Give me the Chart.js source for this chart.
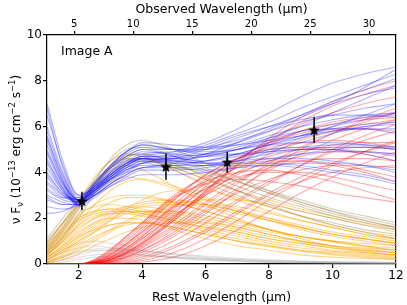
<!DOCTYPE html>
<html>
<head>
<meta charset="utf-8">
<script src="https://cdn.jsdelivr.net/npm/chart.js@4.4.0/dist/chart.umd.min.js"></script>
<style>
  html, body { margin: 0; padding: 0; background: #fff; }
</style>
</head>
<body>
<canvas id="sed" width="407" height="305"></canvas>
<script>
// rest-frame wavelength grid (micron) shared by every model curve
const restWavelength = [1, 1.5, 2, 2.5, 3, 3.5, 4, 5, 6, 7, 8, 9, 10, 11, 12];

// total model curves (blue)
const blueModels = [
  [6.8, 4.2, 2.9, 3.4, 4.0, 4.5, 4.8, 4.9, 5.0, 5.3, 5.8, 6.4, 7.0, 7.7, 8.5],
  [5.5, 3.8, 2.7, 3.2, 3.8, 4.3, 4.6, 4.6, 4.7, 5.0, 5.5, 6.0, 6.6, 7.2, 7.8],
  [4.5, 3.3, 2.6, 3.1, 3.7, 4.2, 4.5, 4.4, 4.5, 4.8, 5.2, 5.5, 5.8, 6.0, 6.1],
  [3.8, 3.0, 2.7, 3.3, 3.9, 4.4, 4.7, 4.7, 4.8, 5.0, 5.2, 5.3, 5.3, 5.2, 5.0],
  [3.0, 2.7, 2.6, 3.2, 3.9, 4.4, 4.7, 4.6, 4.5, 4.7, 4.9, 5.0, 5.0, 4.8, 4.5],
  [5.0, 3.5, 2.8, 3.4, 4.1, 4.7, 5.0, 5.0, 5.1, 5.4, 5.8, 6.2, 6.5, 6.8, 7.0],
  [2.5, 2.4, 2.6, 3.3, 4.0, 4.6, 4.9, 4.8, 4.7, 4.8, 5.0, 5.1, 5.2, 5.2, 5.1],
  [4.2, 3.2, 2.7, 3.0, 3.5, 3.9, 4.2, 4.3, 4.5, 4.8, 5.2, 5.6, 6.0, 6.3, 6.6],
  [3.5, 2.9, 2.8, 3.3, 3.9, 4.3, 4.6, 4.5, 4.4, 4.5, 4.6, 4.6, 4.5, 4.3, 4.0],
  [6.0, 4.0, 2.8, 3.2, 3.8, 4.3, 4.6, 4.8, 5.2, 5.7, 6.2, 6.8, 7.3, 7.8, 8.3],
  [4.8, 3.4, 2.7, 3.3, 3.9, 4.4, 4.6, 4.4, 4.3, 4.4, 4.6, 4.8, 4.9, 4.9, 4.8],
  [3.2, 2.8, 2.7, 3.1, 3.6, 4.1, 4.4, 4.5, 4.7, 5.0, 5.4, 5.8, 6.1, 6.4, 6.6],
  [5.8, 3.9, 2.8, 3.2, 3.7, 4.1, 4.3, 4.3, 4.3, 4.5, 4.8, 5.0, 5.1, 5.1, 5.0],
  [2.8, 2.6, 2.6, 3.2, 3.8, 4.3, 4.6, 4.5, 4.4, 4.4, 4.4, 4.3, 4.1, 3.9, 3.6],
  [4.0, 3.1, 2.7, 3.4, 4.2, 4.8, 5.1, 5.0, 5.0, 5.2, 5.6, 6.0, 6.3, 6.5, 6.6],
  [3.6, 3.0, 2.8, 3.2, 3.7, 4.1, 4.4, 4.6, 5.0, 5.5, 6.0, 6.5, 7.0, 7.4, 7.7],
  [5.2, 3.6, 2.8, 3.3, 3.8, 4.2, 4.4, 4.2, 4.1, 4.2, 4.3, 4.4, 4.4, 4.3, 4.1],
  [4.4, 3.2, 2.6, 3.1, 3.7, 4.2, 4.5, 4.6, 4.8, 5.1, 5.5, 5.8, 5.9, 5.9, 5.7],
  [6.5, 4.3, 3.0, 3.3, 3.7, 4.0, 4.2, 4.4, 4.8, 5.3, 5.9, 6.5, 7.1, 7.6, 8.1],
  [3.3, 2.9, 2.9, 3.6, 4.3, 4.9, 5.2, 5.0, 4.8, 4.8, 4.9, 5.0, 5.0, 4.9, 4.7],
  [5.4, 3.6, 2.5, 2.9, 3.4, 3.8, 4.1, 4.1, 4.2, 4.5, 4.9, 5.3, 5.7, 6.0, 6.2],
  [2.2, 2.3, 2.7, 3.5, 4.3, 4.9, 5.3, 5.2, 5.1, 5.2, 5.4, 5.6, 5.8, 5.9, 5.9],
  [4.6, 3.3, 2.6, 3.0, 3.4, 3.7, 3.9, 3.9, 4.0, 4.2, 4.5, 4.8, 5.0, 5.1, 5.1],
  [7.0, 4.5, 3.0, 3.4, 3.9, 4.4, 4.7, 4.9, 5.3, 5.9, 6.6, 7.3, 7.9, 8.3, 8.6],
  [3.9, 3.1, 2.8, 3.5, 4.2, 4.7, 5.0, 4.7, 4.4, 4.3, 4.3, 4.2, 4.0, 3.8, 3.5],
  [5.6, 3.7, 2.6, 3.0, 3.5, 4.0, 4.4, 4.7, 5.1, 5.6, 6.0, 6.3, 6.5, 6.5, 6.4],
  [2.9, 2.6, 2.6, 3.0, 3.5, 3.9, 4.2, 4.2, 4.3, 4.6, 5.0, 5.5, 6.0, 6.5, 7.0],
  [4.9, 3.5, 2.8, 3.5, 4.3, 4.9, 5.2, 5.0, 4.9, 5.0, 5.3, 5.6, 5.9, 6.1, 6.2]
];

// hot dust component (red)
const redModels = [
  [0, 0, 0, 0.05, 0.2, 0.5, 0.9, 1.9, 3.0, 4.0, 4.8, 5.4, 5.8, 6.1, 6.3],
  [0, 0, 0, 0.1, 0.4, 0.9, 1.5, 2.8, 3.9, 4.6, 5.0, 5.1, 5.0, 4.8, 4.5],
  [0, 0, 0, 0.05, 0.15, 0.35, 0.7, 1.5, 2.4, 3.3, 4.1, 4.8, 5.4, 5.9, 6.3],
  [0, 0, 0, 0.1, 0.3, 0.7, 1.2, 2.3, 3.3, 4.0, 4.4, 4.5, 4.4, 4.1, 3.8],
  [0, 0, 0, 0.05, 0.2, 0.5, 0.9, 2.0, 3.2, 4.3, 5.2, 5.8, 6.2, 6.4, 6.5],
  [0, 0, 0, 0.02, 0.1, 0.25, 0.5, 1.2, 2.0, 2.8, 3.6, 4.3, 4.9, 5.4, 5.8],
  [0, 0, 0, 0.15, 0.5, 1.0, 1.6, 2.8, 3.6, 4.0, 4.1, 3.9, 3.6, 3.2, 2.8],
  [0, 0, 0, 0.05, 0.25, 0.6, 1.1, 2.2, 3.4, 4.5, 5.4, 6.1, 6.6, 7.0, 7.3],
  [0, 0, 0, 0.1, 0.35, 0.8, 1.3, 2.5, 3.5, 4.2, 4.7, 5.0, 5.1, 5.1, 5.0],
  [0, 0, 0, 0.03, 0.12, 0.3, 0.6, 1.4, 2.3, 3.1, 3.7, 4.1, 4.3, 4.3, 4.2],
  [0, 0, 0, 0.08, 0.3, 0.7, 1.2, 2.4, 3.6, 4.6, 5.3, 5.7, 5.9, 5.9, 5.8],
  [0, 0, 0, 0.05, 0.2, 0.45, 0.8, 1.7, 2.7, 3.6, 4.3, 4.7, 4.9, 4.9, 4.8],
  [0, 0, 0, 0.02, 0.08, 0.2, 0.4, 1.0, 1.8, 2.7, 3.5, 4.3, 5.0, 5.6, 6.1],
  [0, 0, 0, 0.12, 0.45, 0.9, 1.4, 2.5, 3.3, 3.8, 4.0, 4.0, 3.8, 3.5, 3.2],
  [0, 0, 0, 0.04, 0.18, 0.45, 0.85, 1.9, 3.1, 4.3, 5.3, 6.2, 6.9, 7.4, 7.8],
  [0, 0, 0, 0.2, 0.6, 1.2, 1.8, 3.0, 3.8, 4.3, 4.5, 4.5, 4.3, 4.0, 3.6],
  [0, 0, 0, 0.06, 0.25, 0.55, 1.0, 2.1, 3.1, 3.9, 4.5, 4.9, 5.2, 5.3, 5.3],
  [0, 0, 0, 0.03, 0.1, 0.3, 0.6, 1.3, 2.2, 3.2, 4.2, 5.0, 5.7, 6.3, 6.8],
  [0, 0, 0, 0.15, 0.55, 1.1, 1.7, 2.9, 3.9, 4.6, 5.1, 5.3, 5.4, 5.3, 5.1],
  [0, 0, 0, 0.02, 0.06, 0.15, 0.3, 0.8, 1.5, 2.3, 3.1, 3.8, 4.4, 4.9, 5.3],
  [0, 0, 0, 0.08, 0.3, 0.65, 1.1, 2.1, 3.0, 3.7, 4.2, 4.5, 4.6, 4.6, 4.5],
  [0, 0, 0, 0.1, 0.4, 0.85, 1.4, 2.6, 3.7, 4.6, 5.3, 5.8, 6.1, 6.3, 6.4],
  [0, 0, 0, 0.04, 0.15, 0.4, 0.75, 1.6, 2.6, 3.5, 4.4, 5.1, 5.7, 6.2, 6.6],
  [0, 0, 0, 0.2, 0.65, 1.2, 1.8, 2.9, 3.5, 3.7, 3.6, 3.4, 3.1, 2.9, 2.7],
  [0, 0, 0, 0.05, 0.2, 0.5, 0.95, 2.0, 3.2, 4.4, 5.5, 6.4, 7.1, 7.6, 8.0],
  [0, 0, 0, 0, 0.02, 0.06, 0.15, 0.5, 1.1, 1.9, 2.8, 3.6, 4.3, 4.9, 5.4],
  [0, 0, 0, 0, 0.01, 0.03, 0.08, 0.3, 0.8, 1.5, 2.3, 3.1, 3.8, 4.4, 4.9],
  [0, 0, 0, 0.01, 0.04, 0.1, 0.22, 0.7, 1.4, 2.2, 3.0, 3.6, 4.0, 4.2, 4.3]
];

// stellar component with strong bump (brownish)
const oliveModels = [
  [0.6, 1.4, 2.4, 3.5, 4.3, 4.7, 4.8, 4.5, 4.1, 3.6, 3.1, 2.7, 2.3, 2.0, 1.7],
  [0.9, 1.8, 2.7, 3.7, 4.5, 5.0, 5.1, 4.7, 4.2, 3.6, 3.1, 2.6, 2.2, 1.9, 1.6],
  [0.4, 1.1, 2.0, 3.1, 4.0, 4.5, 4.6, 4.3, 3.9, 3.4, 2.9, 2.5, 2.1, 1.8, 1.5],
  [1.1, 2.0, 2.8, 3.6, 4.2, 4.5, 4.5, 4.2, 3.7, 3.2, 2.7, 2.3, 2.0, 1.7, 1.5],
  [0.7, 1.5, 2.5, 3.6, 4.6, 5.2, 5.4, 5.0, 4.4, 3.8, 3.2, 2.7, 2.3, 1.9, 1.6],
  [0.5, 1.2, 2.2, 3.3, 4.2, 4.7, 4.8, 4.4, 3.8, 3.2, 2.6, 2.1, 1.7, 1.4, 1.1],
  [0.8, 1.6, 2.6, 3.5, 4.2, 4.6, 4.6, 4.1, 3.5, 3.0, 2.5, 2.1, 1.8, 1.5, 1.3],
  [1.0, 1.8, 2.6, 3.4, 4.0, 4.4, 4.5, 4.3, 4.0, 3.6, 3.2, 2.8, 2.4, 2.1, 1.8]
];

// stellar component (orange)
const orangeModels = [
  [0.9, 1.8, 2.8, 3.8, 4.5, 4.8, 4.7, 4.1, 3.4, 2.8, 2.3, 1.9, 1.6, 1.3, 1.1],
  [0.7, 1.5, 2.4, 3.4, 4.2, 4.6, 4.6, 4.2, 3.7, 3.2, 2.8, 2.4, 2.1, 1.8, 1.6],
  [0.6, 1.3, 2.1, 2.6, 2.9, 3.0, 3.0, 2.7, 2.3, 1.9, 1.5, 1.2, 1.0, 0.8, 0.6],
  [0.5, 1.2, 2.0, 2.3, 2.4, 2.4, 2.3, 2.0, 1.7, 1.4, 1.1, 0.9, 0.7, 0.6, 0.5],
  [0.4, 1.0, 1.7, 2.1, 2.2, 2.2, 2.1, 1.8, 1.4, 1.1, 0.8, 0.6, 0.5, 0.4, 0.3],
  [0.3, 0.7, 1.2, 1.7, 2.1, 2.4, 2.6, 2.7, 2.6, 2.3, 2.0, 1.7, 1.4, 1.2, 1.0],
  [0.2, 0.5, 0.9, 1.4, 1.9, 2.4, 2.8, 3.2, 3.2, 2.9, 2.5, 2.1, 1.7, 1.4, 1.2],
  [0.8, 1.7, 2.6, 3.5, 4.1, 4.3, 4.1, 3.4, 2.6, 2.0, 1.5, 1.1, 0.8, 0.6, 0.5],
  [0.3, 0.8, 1.4, 1.8, 2.0, 2.0, 1.9, 1.5, 1.1, 0.8, 0.6, 0.4, 0.3, 0.25, 0.2],
  [0.1, 0.3, 0.6, 1.0, 1.4, 1.8, 2.1, 2.5, 2.6, 2.5, 2.2, 1.9, 1.6, 1.3, 1.1],
  [0.6, 1.4, 2.2, 2.5, 2.6, 2.5, 2.4, 2.1, 1.8, 1.5, 1.2, 1.0, 0.8, 0.7, 0.6],
  [0.2, 0.6, 1.0, 1.5, 1.9, 2.2, 2.3, 2.3, 2.1, 1.8, 1.5, 1.2, 1.0, 0.8, 0.7],
  [0.5, 1.1, 1.8, 2.6, 3.2, 3.6, 3.7, 3.4, 2.9, 2.4, 2.0, 1.6, 1.3, 1.1, 0.9],
  [0.1, 0.4, 0.8, 1.2, 1.5, 1.7, 1.8, 1.8, 1.6, 1.4, 1.1, 0.9, 0.7, 0.5, 0.4],
  [0.4, 0.9, 1.5, 2.0, 2.3, 2.5, 2.5, 2.3, 2.0, 1.7, 1.4, 1.2, 1.0, 0.9, 0.8],
  [0.2, 0.5, 1.0, 1.4, 1.7, 1.8, 1.8, 1.6, 1.3, 1.0, 0.8, 0.6, 0.45, 0.35, 0.25],
  [0.5, 1.2, 1.9, 2.2, 2.3, 2.3, 2.2, 1.9, 1.6, 1.3, 1.0, 0.8, 0.6, 0.5, 0.4],
  [0.6, 1.3, 2.0, 2.3, 2.4, 2.3, 2.2, 1.9, 1.5, 1.2, 0.9, 0.7, 0.55, 0.45, 0.35],
  [0.4, 1.0, 1.6, 2.0, 2.2, 2.3, 2.3, 2.2, 1.9, 1.6, 1.3, 1.0, 0.8, 0.65, 0.5],
  [0.3, 0.8, 1.3, 1.8, 2.2, 2.5, 2.7, 2.8, 2.6, 2.3, 1.9, 1.6, 1.3, 1.1, 0.9],
  [0.2, 0.6, 1.1, 1.6, 2.0, 2.3, 2.5, 2.6, 2.5, 2.2, 1.9, 1.6, 1.3, 1.1, 0.9],
  [0.7, 1.6, 2.5, 3.2, 3.6, 3.8, 3.7, 3.3, 2.8, 2.3, 1.9, 1.5, 1.2, 1.0, 0.8],
  [0.1, 0.3, 0.7, 1.1, 1.5, 1.9, 2.2, 2.6, 2.8, 2.8, 2.6, 2.3, 2.0, 1.7, 1.4],
  [0.3, 0.7, 1.2, 1.5, 1.7, 1.8, 1.8, 1.6, 1.3, 1.0, 0.75, 0.55, 0.4, 0.3, 0.2],
  [0.4, 1.0, 1.7, 2.3, 2.7, 2.9, 2.9, 2.7, 2.3, 1.9, 1.5, 1.2, 0.95, 0.75, 0.6],
  [0.05, 0.2, 0.45, 0.8, 1.1, 1.4, 1.6, 1.8, 1.8, 1.6, 1.3, 1.0, 0.75, 0.55, 0.4]
];

// faint component (grey)
const greyModels = [
  [0.1, 0.3, 0.5, 0.6, 0.6, 0.5, 0.4, 0.25, 0.15, 0.1, 0.07, 0.05, 0.04, 0.03, 0.02],
  [0.2, 0.5, 0.7, 0.8, 0.7, 0.6, 0.5, 0.3, 0.2, 0.12, 0.08, 0.06, 0.05, 0.04, 0.03],
  [0.05, 0.15, 0.3, 0.4, 0.45, 0.45, 0.4, 0.3, 0.2, 0.15, 0.1, 0.08, 0.06, 0.05, 0.04],
  [0.3, 0.6, 0.9, 1.0, 0.9, 0.8, 0.6, 0.4, 0.25, 0.15, 0.1, 0.07, 0.05, 0.04, 0.03],
  [0.02, 0.08, 0.2, 0.3, 0.35, 0.35, 0.35, 0.3, 0.25, 0.2, 0.15, 0.12, 0.1, 0.08, 0.07],
  [0.15, 0.35, 0.55, 0.65, 0.7, 0.65, 0.6, 0.45, 0.3, 0.2, 0.14, 0.1, 0.07, 0.05, 0.04],
  [0.05, 0.2, 0.4, 0.55, 0.6, 0.6, 0.55, 0.45, 0.35, 0.25, 0.18, 0.13, 0.1, 0.08, 0.06]
];

// photometry (Image A)
const obsWave = [2.1, 4.75, 6.68, 9.42];
const obsFlux = [2.75, 4.25, 4.45, 5.85];
const obsErr = [0.4, 0.57, 0.45, 0.57];

const bottomTicks = [2, 4, 6, 8, 10, 12];
const topTicks = [5, 10, 15, 20, 25, 30];
const zFactor = 2.69; // observed / rest

const FONT = 'DejaVu Sans';

function curveSets(models, color, width) {
  return models.map(m => ({
    data: m.map((v, i) => ({ x: restWavelength[i], y: v })),
    borderColor: color,
    borderWidth: width,
    pointRadius: 0,
    fill: false,
    cubicInterpolationMode: 'monotone'
  }));
}

// filled star marker
const star = document.createElement('canvas');
star.width = 12; star.height = 12;
(function () {
  const c = star.getContext('2d');
  c.beginPath();
  for (let i = 0; i < 10; i++) {
    const r = i % 2 === 0 ? 6 : 2.5;
    const a = -Math.PI / 2 + i * Math.PI / 5;
    c.lineTo(6 + r * Math.cos(a), 6.5 + r * Math.sin(a));
  }
  c.closePath();
  c.fillStyle = '#000';
  c.fill();
})();

const errorBars = {
  id: 'errorBars',
  afterDatasetsDraw(chart) {
    const { ctx, scales } = chart;
    ctx.save();
    ctx.strokeStyle = '#000';
    ctx.lineWidth = 1.5;
    obsWave.forEach((w, i) => {
      const px = scales.x.getPixelForValue(w);
      ctx.beginPath();
      ctx.moveTo(px, scales.y.getPixelForValue(obsFlux[i] - obsErr[i]));
      ctx.lineTo(px, scales.y.getPixelForValue(obsFlux[i] + obsErr[i]));
      ctx.stroke();
    });
    ctx.restore();
  }
};

const labels = {
  id: 'labels',
  afterDraw(chart) {
    const { ctx, chartArea } = chart;
    ctx.save();
    ctx.fillStyle = '#000';
    ctx.font = '12.5px ' + FONT;
    ctx.textBaseline = 'alphabetic';
    ctx.fillText('Image A', chartArea.left + 14, chartArea.top + 20);

    // y title with sub/superscripts
    const parts = [
      ['\u03bd F', 0, 12],
      ['\u03bd', 3, 8.5],
      [' (10', 0, 12],
      ['\u221213', -5, 8.5],
      [' erg cm', 0, 12],
      ['\u22122', -5, 8.5],
      [' s', 0, 12],
      ['\u22121', -5, 8.5],
      [')', 0, 12]
    ];
    let total = 0;
    parts.forEach(p => { ctx.font = p[2] + 'px ' + FONT; total += ctx.measureText(p[0]).width; });
    ctx.translate(20, (chartArea.top + chartArea.bottom) / 2);
    ctx.rotate(-Math.PI / 2);
    let x = -total / 2;
    parts.forEach(p => {
      ctx.font = p[2] + 'px ' + FONT;
      ctx.fillText(p[0], x, p[1]);
      x += ctx.measureText(p[0]).width;
    });
    ctx.restore();
  }
};

const datasets = [
  {
    data: obsWave.map((w, i) => ({ x: w, y: obsFlux[i] })),
    pointStyle: star,
    pointRadius: 6,
    showLine: false,
    borderColor: '#000'
  },
  ...curveSets(blueModels, 'rgba(20, 20, 255, 0.33)', 1.1),
  ...curveSets(oliveModels, 'rgba(145, 120, 60, 0.35)', 1.1),
  ...curveSets(redModels, 'rgba(255, 0, 0, 0.33)', 1.1),
  ...curveSets(orangeModels, 'rgba(255, 165, 0, 0.45)', 1.1),
  ...curveSets(greyModels, 'rgba(160, 160, 160, 0.3)', 1.1)
];

const axisGrid = { drawOnChartArea: false, drawTicks: true, tickLength: 4, color: '#000', lineWidth: 1.2 };
const axisBorder = { display: true, color: '#000', width: 1.2 };

new Chart(document.getElementById('sed'), {
  type: 'line',
  data: { datasets },
  options: {
    responsive: false,
    animation: false,
    layout: { padding: 0 },
    plugins: { legend: { display: false }, tooltip: { enabled: false } },
    scales: {
      x: {
        type: 'linear', position: 'bottom', min: 1, max: 12,
        afterBuildTicks: s => { s.ticks = bottomTicks.map(v => ({ value: v })); },
        afterFit: s => { s.height = 41; },
        grid: axisGrid, border: axisBorder,
        ticks: { color: '#000', font: { family: FONT, size: 12 }, padding: 1, maxRotation: 0 },
        title: { display: true, text: 'Rest Wavelength (\u03bcm)', color: '#000', font: { family: FONT, size: 12.5 }, padding: { top: 0, bottom: 0 } }
      },
      xTop: {
        type: 'linear', position: 'top', min: 1 * zFactor, max: 12 * zFactor,
        afterBuildTicks: s => { s.ticks = topTicks.map(v => ({ value: v })); },
        afterFit: s => { s.height = 35; },
        grid: axisGrid, border: axisBorder,
        ticks: { color: '#000', font: { family: FONT, size: 10 }, padding: 1, maxRotation: 0 },
        title: { display: true, text: 'Observed Wavelength (\u03bcm)', color: '#000', font: { family: FONT, size: 12.5 }, padding: { top: 2, bottom: 0 } }
      },
      y: {
        type: 'linear', position: 'left', min: 0, max: 10,
        afterFit: s => { s.width = 47; },
        grid: axisGrid, border: axisBorder,
        ticks: { stepSize: 2, color: '#000', font: { family: FONT, size: 12 }, padding: 1 }
      },
      yRight: {
        type: 'linear', position: 'right', min: 0, max: 10,
        afterFit: s => { s.width = 11; },
        grid: { drawOnChartArea: false, drawTicks: false },
        border: axisBorder,
        ticks: { display: false }
      }
    }
  },
  plugins: [errorBars, labels]
});
</script>
</body>
</html>
